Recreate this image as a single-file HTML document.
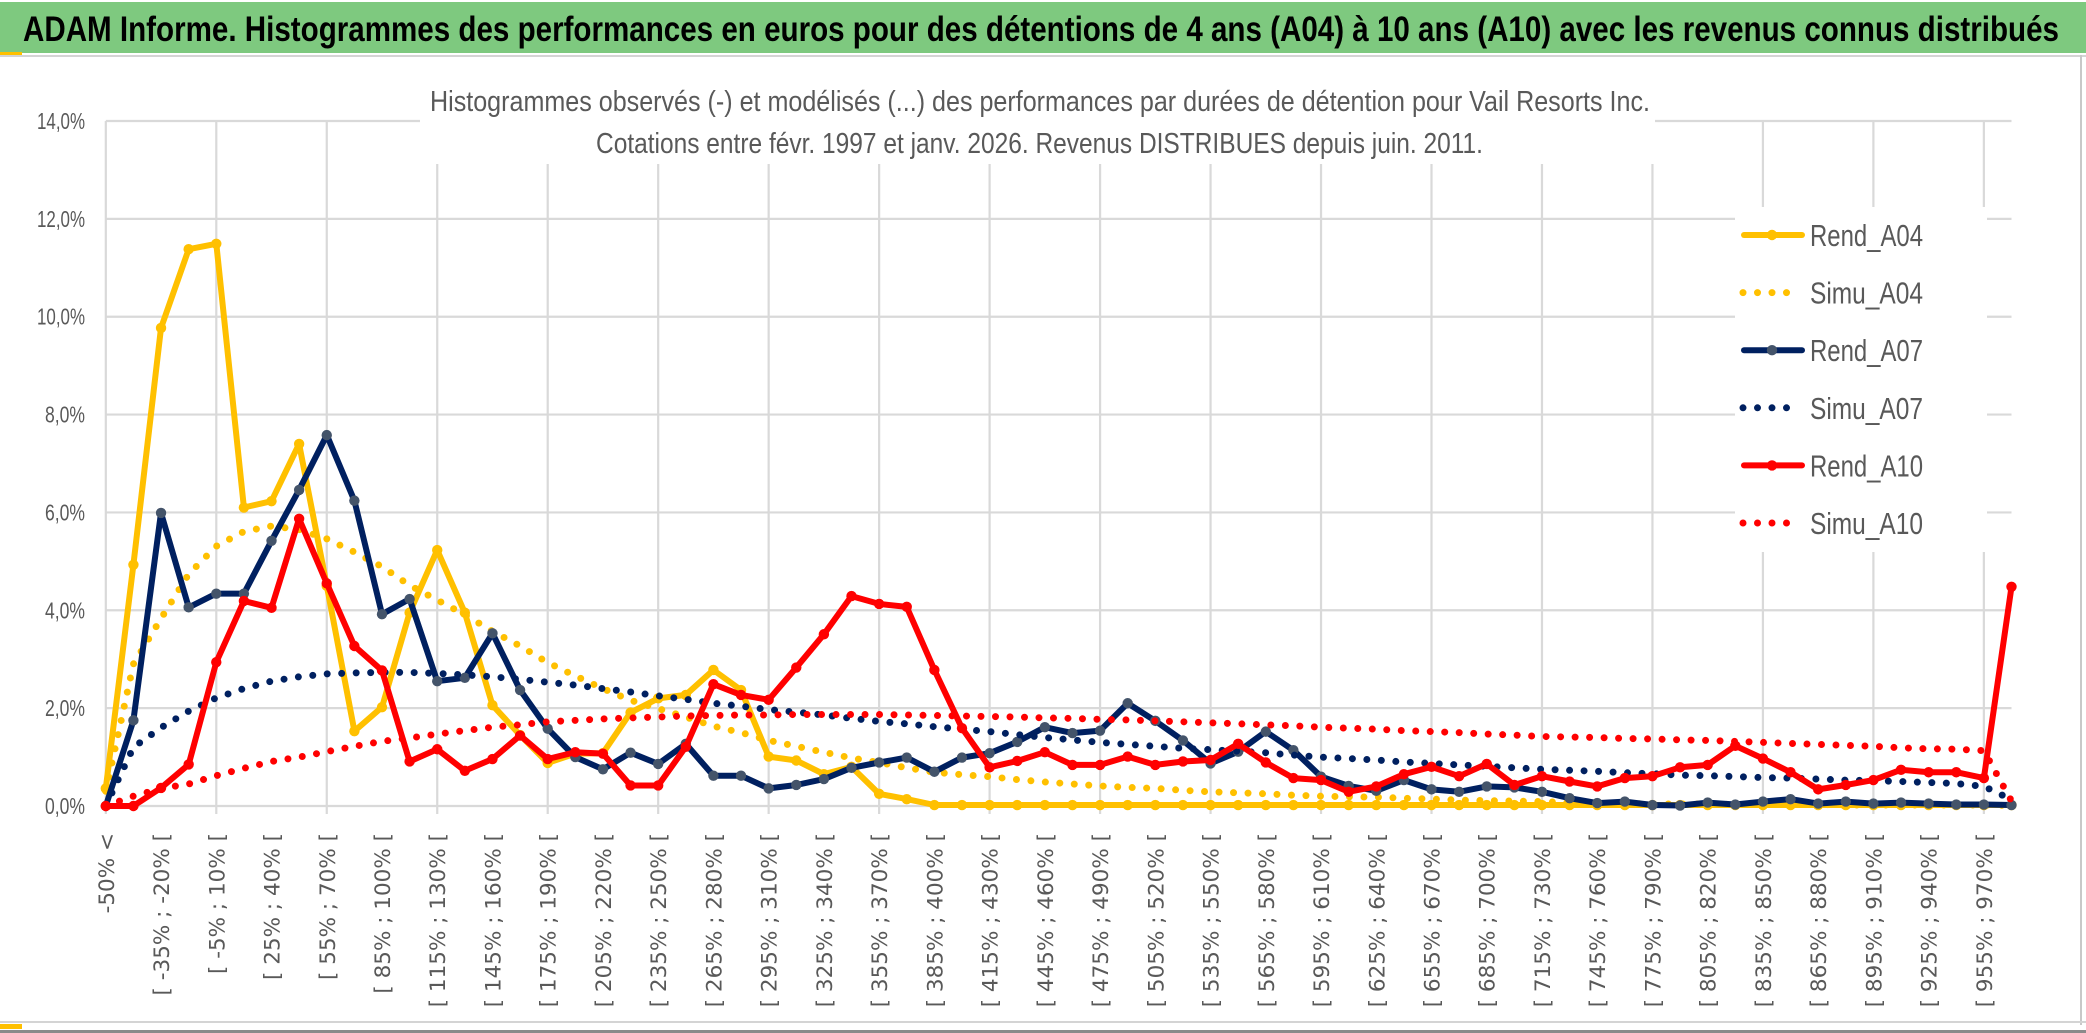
<!DOCTYPE html>
<html><head><meta charset="utf-8">
<style>
html,body{margin:0;padding:0;background:#fff;}
svg{display:block;}
</style></head>
<body>
<svg id="chart" width="2086" height="1033" viewBox="0 0 2086 1033" xmlns="http://www.w3.org/2000/svg">
  <rect x="0" y="0" width="2086" height="1033" fill="#ffffff"/>
  <rect x="0" y="2" width="2086" height="51" fill="#7ec97f"/>
  <text x="23" y="41" font-family="Liberation Sans, sans-serif" font-weight="bold" font-size="35" fill="#000" textLength="2036" lengthAdjust="spacingAndGlyphs">ADAM Informe. Histogrammes des performances en euros pour des détentions de 4 ans (A04) à 10 ans (A10) avec les revenus connus distribués</text>
  <rect x="0" y="55" width="2086" height="2" fill="#d4d4d4"/>
  <rect x="0" y="52" width="22" height="3" fill="#ffc000"/>
  <rect x="2080" y="55" width="2" height="970" fill="#c8c8c8"/>
  <rect x="0" y="1021" width="2086" height="2" fill="#d4d4d4"/>
  <rect x="0" y="1024" width="22" height="5" fill="#ffc000"/>
  <rect x="0" y="1030" width="2086" height="3" fill="#8a8a8a"/>
  <g id="grid"></g>
  <g id="yaxis"></g>
  <g id="xaxis"></g>
  <g id="series"></g>
  <rect x="420" y="80" width="1235" height="84" fill="#ffffff"/>
  <text x="430" y="111" font-family="Liberation Sans, sans-serif" font-size="29" fill="#595959" textLength="1220" lengthAdjust="spacingAndGlyphs">Histogrammes observés (-) et modélisés (...) des performances par durées de détention pour Vail Resorts Inc.</text>
  <text x="596" y="153" font-family="Liberation Sans, sans-serif" font-size="29" fill="#595959" textLength="887" lengthAdjust="spacingAndGlyphs">Cotations entre févr. 1997 et janv. 2026. Revenus DISTRIBUES depuis juin. 2011.</text>
  <g id="legend"></g>
</svg>
<script>
const yTicks = [0, 2, 4, 6, 8, 10, 12, 14];
const yTickLabels = ["0,0%", "2,0%", "4,0%", "6,0%", "8,0%", "10,0%", "12,0%", "14,0%"];
const xLabels = ["-50% <", "[ -35% ; -20% [", "[ -5% ; 10% [", "[ 25% ; 40% [", "[ 55% ; 70% [", "[ 85% ; 100% [", "[ 115% ; 130% [", "[ 145% ; 160% [", "[ 175% ; 190% [", "[ 205% ; 220% [", "[ 235% ; 250% [", "[ 265% ; 280% [", "[ 295% ; 310% [", "[ 325% ; 340% [", "[ 355% ; 370% [", "[ 385% ; 400% [", "[ 415% ; 430% [", "[ 445% ; 460% [", "[ 475% ; 490% [", "[ 505% ; 520% [", "[ 535% ; 550% [", "[ 565% ; 580% [", "[ 595% ; 610% [", "[ 625% ; 640% [", "[ 655% ; 670% [", "[ 685% ; 700% [", "[ 715% ; 730% [", "[ 745% ; 760% [", "[ 775% ; 790% [", "[ 805% ; 820% [", "[ 835% ; 850% [", "[ 865% ; 880% [", "[ 895% ; 910% [", "[ 925% ; 940% [", "[ 955% ; 970% ["];
const seriesNames = ["Rend_A04", "Simu_A04", "Rend_A07", "Simu_A07", "Rend_A10", "Simu_A10"];
const rendA04 = [0.36,4.93,9.77,11.38,11.49,6.10,6.23,7.40,4.5,1.53,2.02,3.95,5.23,3.95,2.06,1.45,0.88,1.07,1.08,1.91,2.2,2.27,2.78,2.37,1.01,0.93,0.65,0.80,0.25,0.14,0.02,0.02,0.02,0.02,0.02,0.02,0.02,0.02,0.02,0.02,0.02,0.02,0.02,0.02,0.02,0.02,0.02,0.02,0.02,0.02,0.02,0.02,0.02,0.02,0.02,0.02,0.02,0.02,0.02,0.02,0.02,0.02,0.02,0.02,0.02,0.02,0.02,0.02,0.02,0.02];
const simuA04 = [0.3,2.9,3.83,4.74,5.31,5.61,5.72,5.65,5.46,5.19,4.89,4.51,4.21,3.91,3.57,3.27,2.93,2.66,2.40,2.16,1.99,1.82,1.63,1.50,1.34,1.22,1.10,0.98,0.89,0.78,0.69,0.64,0.60,0.54,0.49,0.45,0.41,0.38,0.36,0.32,0.29,0.27,0.25,0.22,0.20,0.19,0.18,0.16,0.14,0.12,0.11,0.10,0.09,0.07,0.05,0.05,0.04,0.04,0.04,0.03,0.03,0.03,0.03,0.02,0.02,0.02,0.02,0.02,0.02,0.01];
const rendA07 = [0,1.75,5.99,4.06,4.34,4.34,5.42,6.46,7.58,6.24,3.92,4.23,2.55,2.62,3.53,2.37,1.58,1.0,0.75,1.09,0.86,1.27,0.62,0.62,0.36,0.43,0.55,0.78,0.89,0.99,0.70,0.99,1.08,1.31,1.61,1.49,1.54,2.10,1.74,1.34,0.87,1.11,1.52,1.14,0.60,0.41,0.31,0.53,0.34,0.29,0.40,0.38,0.29,0.16,0.06,0.09,0.02,0.01,0.07,0.03,0.09,0.14,0.05,0.09,0.05,0.07,0.05,0.03,0.03,0.02];
const simuA07 = [0,1.2,1.6,1.94,2.21,2.40,2.55,2.64,2.70,2.72,2.73,2.73,2.71,2.68,2.64,2.59,2.53,2.47,2.40,2.33,2.25,2.18,2.10,2.04,1.97,1.92,1.86,1.79,1.73,1.68,1.62,1.57,1.52,1.46,1.40,1.35,1.30,1.26,1.22,1.18,1.15,1.12,1.09,1.04,1.00,0.97,0.94,0.90,0.87,0.84,0.81,0.78,0.75,0.73,0.71,0.68,0.66,0.63,0.62,0.60,0.58,0.57,0.55,0.53,0.52,0.50,0.48,0.46,0.40,0.13];
const rendA10 = [0,0,0.37,0.85,2.94,4.19,4.05,5.87,4.55,3.27,2.77,0.91,1.16,0.72,0.96,1.44,0.96,1.10,1.07,0.42,0.42,1.21,2.49,2.27,2.17,2.83,3.51,4.29,4.13,4.07,2.78,1.59,0.79,0.92,1.10,0.84,0.84,1.01,0.84,0.91,0.94,1.27,0.89,0.57,0.53,0.29,0.40,0.65,0.80,0.61,0.86,0.43,0.61,0.50,0.40,0.57,0.61,0.79,0.84,1.23,0.97,0.69,0.34,0.43,0.53,0.74,0.69,0.69,0.57,4.48];
const simuA10 = [0,0.2,0.36,0.45,0.62,0.77,0.91,1.0,1.11,1.22,1.32,1.39,1.47,1.54,1.61,1.66,1.72,1.75,1.78,1.80,1.82,1.84,1.85,1.86,1.86,1.87,1.87,1.87,1.87,1.86,1.85,1.84,1.83,1.82,1.80,1.79,1.77,1.76,1.74,1.72,1.70,1.68,1.66,1.64,1.61,1.59,1.57,1.54,1.52,1.50,1.47,1.45,1.42,1.41,1.40,1.38,1.37,1.35,1.34,1.32,1.30,1.28,1.26,1.24,1.22,1.19,1.17,1.16,1.13,0.1];

const NS = "http://www.w3.org/2000/svg";
const X0 = 105.8, X1 = 2011.5, Y0 = 806, Y1 = 121, YMAX = 14;
const N = rendA04.length;
function xScale(i){ return X0 + (X1 - X0) * i / (N - 1); }
function yScale(v){ return Y0 - (Y0 - Y1) * v / YMAX; }
function mk(tag, attrs, parent){ const e = document.createElementNS(NS, tag); for (const k in attrs) e.setAttribute(k, attrs[k]); parent.appendChild(e); return e; }

const grid = document.getElementById('grid');
yTicks.forEach(function(t){
  const l = mk('line', {x1: X0, x2: X1, y1: yScale(t), y2: yScale(t), stroke: '#d9d9d9', 'stroke-width': 2.2}, grid);
  
  
});
for (let i = 0; i < N; i += 4) {
  const l = mk('line', {x1: xScale(i), x2: xScale(i), y1: Y1, y2: Y0 + 8, stroke: '#d9d9d9', 'stroke-width': 2.2}, grid);
  
  
}

const yaxis = document.getElementById('yaxis');
yTicks.forEach(function(t, k){
  const tx = mk('text', {x: 85, y: yScale(t) + 8, 'text-anchor': 'end', 'font-family': 'Liberation Sans, sans-serif', 'font-size': 23, fill: '#595959', textLength: t >= 10 ? 48 : 40, lengthAdjust: 'spacingAndGlyphs'}, yaxis);
  tx.textContent = yTickLabels[k];
  
  
});

const xaxis = document.getElementById('xaxis');
xLabels.forEach(function(lab, k){
  const i = k * 2;
  const x = xScale(i) + 8, y = 833;
  const tx = mk('text', {x: x, y: y, transform: 'rotate(-90 ' + x + ' ' + y + ')', 'text-anchor': 'end', 'font-family': 'DejaVu Sans, sans-serif', 'font-size': 21.5, fill: '#595959'}, xaxis);
  tx.textContent = lab;
  
  
});

const series = document.getElementById('series');
function pts(arr){ return arr.map(function(v, i){ return xScale(i).toFixed(1) + ',' + yScale(v).toFixed(1); }).join(' '); }
function solid(arr, color, marker, name){
  const g = mk('g', {}, series);
  
  
  const p = mk('polyline', {points: pts(arr), fill: 'none', stroke: color, 'stroke-width': 6, 'stroke-linejoin': 'round', 'stroke-linecap': 'round'}, g);
  
  
  arr.forEach(function(v, i){
    const c = mk('circle', {cx: xScale(i), cy: yScale(v), r: 5.2, fill: marker}, g);
    
    
  });
}
function dotted(arr, color, name){
  const p = mk('polyline', {points: pts(arr), fill: 'none', stroke: color, 'stroke-width': 7, 'stroke-linecap': 'round', 'stroke-dasharray': '0 14.5'}, series);
  
  
}
solid(rendA04, '#ffc000', '#ffc000', 'rend-a04');
dotted(simuA04, '#ffc000', 'simu-a04');
solid(rendA07, '#002060', '#44546a', 'rend-a07');
dotted(simuA07, '#002060', 'simu-a07');
solid(rendA10, '#ff0000', '#ff0000', 'rend-a10');
dotted(simuA10, '#ff0000', 'simu-a10');

const legend = document.getElementById('legend');
mk('rect', {x: 1735, y: 207, width: 252, height: 345, fill: '#ffffff'}, legend);
const legendColors = ['#ffc000', '#ffc000', '#002060', '#002060', '#ff0000', '#ff0000'];
const legendMarkers = ['#ffc000', null, '#44546a', null, '#ff0000', null];
seriesNames.forEach(function(nm, k){
  const cy = 235 + k * 57.6;
  const g = mk('g', {}, legend);
  
  
  if (legendMarkers[k]) {
    mk('line', {x1: 1744, x2: 1802, y1: cy, y2: cy, stroke: legendColors[k], 'stroke-width': 6, 'stroke-linecap': 'round'}, g);
    mk('circle', {cx: 1772, cy: cy, r: 5.2, fill: legendMarkers[k]}, g);
  } else {
    mk('line', {x1: 1743, x2: k === 5 ? 1801 : 1790, y1: cy, y2: cy, stroke: legendColors[k], 'stroke-width': 7, 'stroke-linecap': 'round', 'stroke-dasharray': '0 14.5'}, g);
  }
  const t = mk('text', {x: 1810, y: cy + 11, 'font-family': 'Liberation Sans, sans-serif', 'font-size': 31, fill: '#595959', textLength: 113, lengthAdjust: 'spacingAndGlyphs'}, g);
  t.textContent = nm;
  
  
});
</script>
</body></html>
